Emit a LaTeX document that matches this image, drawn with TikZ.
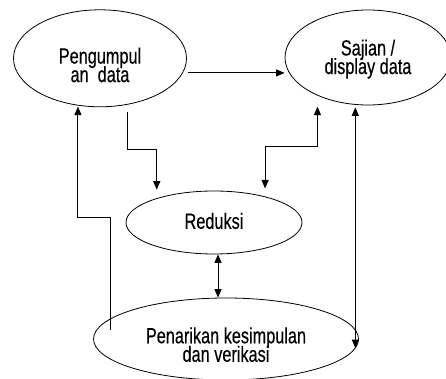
\documentclass[tikz,border=0pt]{standalone}
\usepackage{fontspec}
\usetikzlibrary{shapes.geometric}
\usetikzlibrary{positioning}
\usetikzlibrary{arrows.meta}
\newfontfamily\labelfont{Liberation Sans}[FakeStretch=0.74, FakeBold=0.4]
% two centred lines, baselines 18.5pt apart
\newcommand{\twoline}[2]{\vbox{\baselineskip=18.5pt\lineskiplimit=-20pt\halign{\hfil##\hfil\cr#1\cr#2\cr}}}

\tikzset{
    stage/.style={draw, ellipse, line width=0.8pt, inner sep=0pt,
        font={\labelfont\fontsize{22}{18.5}\selectfont}},
    flow/.style={line width=1pt, -{Triangle[length=8.5pt,width=7pt]}},
    twoway/.style={line width=1pt, {Triangle[length=8.5pt,width=7pt]}-{Triangle[length=8.5pt,width=7pt]}}
}

\begin{document}
\begin{tikzpicture}[x=1pt, y=-1pt]
            \useasboundingbox (0,0) rectangle (446,379);
            % Stages of the analysis
            \node[stage, minimum width=173pt, minimum height=97pt] (peng) at (100,58.3) {\twoline{\rule{0pt}{34pt}Pengumpul}{an\ \ data\rule[-5pt]{0pt}{5pt}}};
            \node[stage, minimum width=166pt, minimum height=95pt] (saji) at (368,57.5) {\twoline{\rule{0pt}{19.5pt}Sajian /}{display data\rule[-5pt]{0pt}{5pt}}};
            \node[stage, minimum width=176pt, minimum height=63pt] (redu) at (214,222.5) {\rule[-5pt]{0pt}{22.6pt}Reduksi};
            \node[stage, minimum width=265pt, minimum height=82pt] (pena) at (226,339) {\twoline{\rule{0pt}{30pt}Penarikan kesimpulan}{dan verikasi\rule[-3pt]{0pt}{3pt}}};
            \coordinate (mid) at ([xshift=4pt]redu.south);
            
            % Flows between the stages
            \draw[flow, shorten <=5pt] (peng.-10) -- (peng.-10 -| saji.west);
            \draw[flow, shorten <=7pt, shorten >=8.5pt] (peng.-59) |- (0,150 -| redu.157) -- (redu.157);
            \draw[twoway, shorten <=8pt, shorten >=11pt] (redu.27) |- (0,147 -| saji.217) -- (saji.217);
            \draw[flow, shorten <=-11pt, shorten >=1pt] (pena.170) |- (0,217 -| peng.245) -- (peng.245);
            \draw[twoway] (mid) -- (mid |- pena.north);
            \draw[twoway, shorten <=2.5pt, shorten >=-9pt] (saji.255) -- (saji.255 |- pena.east);
        \end{tikzpicture}
\end{document}
